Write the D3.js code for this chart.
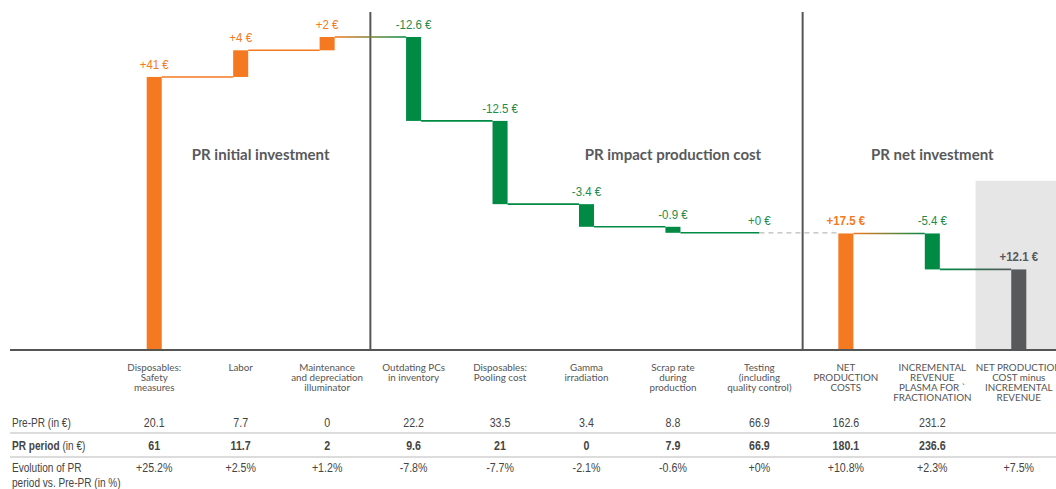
<!DOCTYPE html>
<html>
<head>
<meta charset="utf-8">
<script src="https://cdn.jsdelivr.net/npm/d3@7"></script>
<style>
  body { margin: 0; background: #fff; }
  svg { display: block; }
</style>
</head>
<body>
<div id="chart"></div>
<script>

// categories (header text, \n = line break)
var categories = [
	"Disposables:\nSafety\nmeasures",
	"Labor",
	"Maintenance\nand depreciation\nilluminator",
	"Outdating PCs\nin inventory",
	"Disposables:\nPooling cost",
	"Gamma\nirradiation",
	"Scrap rate\nduring\nproduction",
	"Testing\n(including\nquality control)",
	"NET\nPRODUCTION\nCOSTS",
	"INCREMENTAL\nREVENUE\nPLASMA FOR `\nFRACTIONATION",
	"NET PRODUCTION\nCOST minus\nINCREMENTAL\nREVENUE"
];

// waterfall steps (in €); totals restart from zero
var stepValues = [41, 4, 2, -12.6, -12.5, -3.4, -0.9, 0, 17.5, -5.4, 12.1];
var isTotal = [false, false, false, false, false, false, false, false, true, false, true];

// table rows
var prePR = ["20.1", "7.7", "0", "22.2", "33.5", "3.4", "8.8", "66.9", "162.6", "231.2", ""];
var prPeriod = ["61", "11.7", "2", "9.6", "21", "0", "7.9", "66.9", "180.1", "236.6", ""];
var evolution = ["+25.2%", "+2.5%", "+1.2%", "-7.8%", "-7.7%", "-2.1%", "-0.6%", "+0%", "+10.8%", "+2.3%", "+7.5%"];

// section titles: [text, category it sits over, shift]
var sections = [
	["PR initial investment", 1, 20],
	["PR impact production cost", 6, 0],
	["PR net investment", 9, 0]
];
var dividers = [2, 7]; // divider after these categories

var orange = "#f47920",
	green = "#008a44",
	grey = "#58595b",
	labelGreen = "#1f8b4c";

var width = 1056,
	height = 489,
	baseY = 350;

var svg = d3.select("#chart").append("svg")
	.attr("width", width)
	.attr("height", height);

var defs = svg.append("defs");

var x = d3.scaleBand()
	.domain(d3.range(categories.length))
	.range([111, 1062])
	.paddingInner(0.826)
	.paddingOuter(0.413);

var y = d3.scaleLinear()
	.domain([0, 47])
	.range([baseY, 37]);

var bw = x.bandwidth(),
	step = x.step();
function cx(i) { return x(i) + bw / 2; }

// running totals
var running = 0;
var bars = stepValues.map(function(v, i) {
	var start, end;
	if (isTotal[i]) { start = 0; end = v; }
	else { start = running; end = running + v; }
	running = end;
	var color = (i === stepValues.length - 1) ? grey : (v > 0 ? orange : green);
	var lcolor = (i === stepValues.length - 1) ? grey : (v > 0 ? orange : labelGreen);
	return {i: i, v: v, start: start, end: end, color: color, lcolor: lcolor, total: isTotal[i]};
});

// grey backdrop behind the final bar
var last = categories.length - 1;
svg.append("rect")
	.attr("x", cx(last) - step / 2)
	.attr("y", y(25.4))
	.attr("width", step)
	.attr("height", baseY - y(25.4))
	.attr("fill", "#e6e6e6");

// section dividers
dividers.forEach(function(i) {
	var dx = cx(i) + step / 2;
	svg.append("line")
		.attr("x1", dx).attr("x2", dx)
		.attr("y1", 12).attr("y2", baseY)
		.attr("stroke", "#555").attr("stroke-width", 2);
});

// section titles
svg.selectAll(".section")
	.data(sections)
	.enter().append("text")
	.attr("class", "section")
	.attr("x", function(d) { return cx(d[1]) + d[2]; })
	.attr("y", 160)
	.attr("text-anchor", "middle")
	.style("font-family", "Lato, 'Noto Sans', sans-serif")
	.style("font-weight", "bold")
	.style("font-size", "15px")
	.style("fill", "#58595b")
	.text(function(d) { return d[0]; });

// connectors between bars
bars.forEach(function(d, k) {
	if (k === bars.length - 1) return;
	var next = bars[k + 1];
	var ly = y(d.end);
	var x1 = d.v === 0 ? cx(k) : x(k) + bw;
	var x2 = next.v === 0 ? cx(k + 1) : x(k + 1);
	if (d.v === 0) {
		svg.append("line")
			.attr("x1", x1).attr("x2", x2)
			.attr("y1", ly).attr("y2", ly)
			.attr("stroke", "#bbb")
			.attr("stroke-width", 1.2)
			.attr("stroke-dasharray", "5,4");
		return;
	}
	var stroke = d.color;
	if (d.color !== next.color && next.v !== 0) {
		var id = "grad" + k;
		var g = defs.append("linearGradient")
			.attr("id", id)
			.attr("gradientUnits", "userSpaceOnUse")
			.attr("x1", x1).attr("x2", x2)
			.attr("y1", 0).attr("y2", 0);
		g.append("stop").attr("offset", "0%").attr("stop-color", d.color);
		g.append("stop").attr("offset", "100%").attr("stop-color", next.color);
		stroke = "url(#" + id + ")";
	}
	svg.append("line")
		.attr("x1", x1).attr("x2", x2)
		.attr("y1", ly).attr("y2", ly)
		.attr("stroke", stroke)
		.attr("stroke-width", 1.6);
});

// bars
svg.selectAll(".bar")
	.data(bars.filter(function(d) { return d.v !== 0; }))
	.enter().append("rect")
	.attr("class", "bar")
	.attr("x", function(d) { return x(d.i); })
	.attr("width", bw)
	.attr("y", function(d) { return y(Math.max(d.start, d.end)); })
	.attr("height", function(d) { return Math.abs(y(d.start) - y(d.end)); })
	.attr("fill", function(d) { return d.color; });

// value labels
function fmt(v) { return (v < 0 ? "-" : "+") + Math.abs(v) + " €"; }

svg.selectAll(".vlabel")
	.data(bars)
	.enter().append("text")
	.attr("class", "vlabel")
	.attr("transform", function(d) {
		return "translate(" + cx(d.i) + "," + (y(Math.max(d.start, d.end)) - 8) + ") scale(0.92,1)";
	})
	.attr("text-anchor", "middle")
	.style("font-family", "'Liberation Sans', Arial, sans-serif")
	.style("font-size", "12.5px")
	.style("font-weight", function(d) { return d.total ? "bold" : "normal"; })
	.style("fill", function(d) { return d.lcolor; })
	.text(function(d) { return fmt(d.v); });

// baseline
svg.append("line")
	.attr("x1", 10).attr("x2", width)
	.attr("y1", baseY).attr("y2", baseY)
	.attr("stroke", "#555").attr("stroke-width", 2);

// table header
var head = svg.selectAll(".head")
	.data(categories)
	.enter().append("text")
	.attr("class", "head")
	.attr("text-anchor", "middle")
	.style("font-family", "Lato, 'Noto Sans', sans-serif")
	.style("font-size", "9.8px")
	.style("fill", "#555");

head.each(function(d, i) {
	var t = d3.select(this);
	d.split("\n").forEach(function(line, j) {
		t.append("tspan")
			.attr("x", cx(i))
			.attr("y", 371 + j * 10)
			.text(line);
	});
});

// table grid lines
[433, 457].forEach(function(gy) {
	svg.append("line")
		.attr("x1", 10).attr("x2", width)
		.attr("y1", gy).attr("y2", gy)
		.attr("stroke", "#d0d0d0").attr("stroke-width", 1.5);
});

// row labels
function rowLabel(parts, ly) {
	var t = svg.append("text")
		.attr("transform", "translate(12," + ly + ") scale(0.84,1)")
		.style("font-family", "'Liberation Sans', Arial, sans-serif")
		.style("font-size", "12px")
		.style("fill", "#444");
	parts.forEach(function(p) {
		t.append("tspan")
			.style("font-weight", p[1] ? "bold" : "normal")
			.text(p[0]);
	});
}
rowLabel([["Pre-PR (in €)", false]], 427);
rowLabel([["PR period", true], [" (in €)", false]], 450);
rowLabel([["Evolution of PR", false]], 472);
rowLabel([["period vs. Pre-PR (in %)", false]], 487);

// row values
function rowValues(vals, ly, bold) {
	svg.append("g").selectAll("text")
		.data(vals)
		.enter().append("text")
		.attr("transform", function(d, i) { return "translate(" + cx(i) + "," + ly + ") scale(0.82,1)"; })
		.attr("text-anchor", "middle")
		.style("font-family", "'Liberation Sans', Arial, sans-serif")
		.style("font-size", "13px")
		.style("font-weight", bold ? "bold" : "normal")
		.style("fill", "#444")
		.text(function(d) { return d; });
}
rowValues(prePR, 427, false);
rowValues(prPeriod, 450, true);
rowValues(evolution, 472, false);

</script>
</body>
</html>
